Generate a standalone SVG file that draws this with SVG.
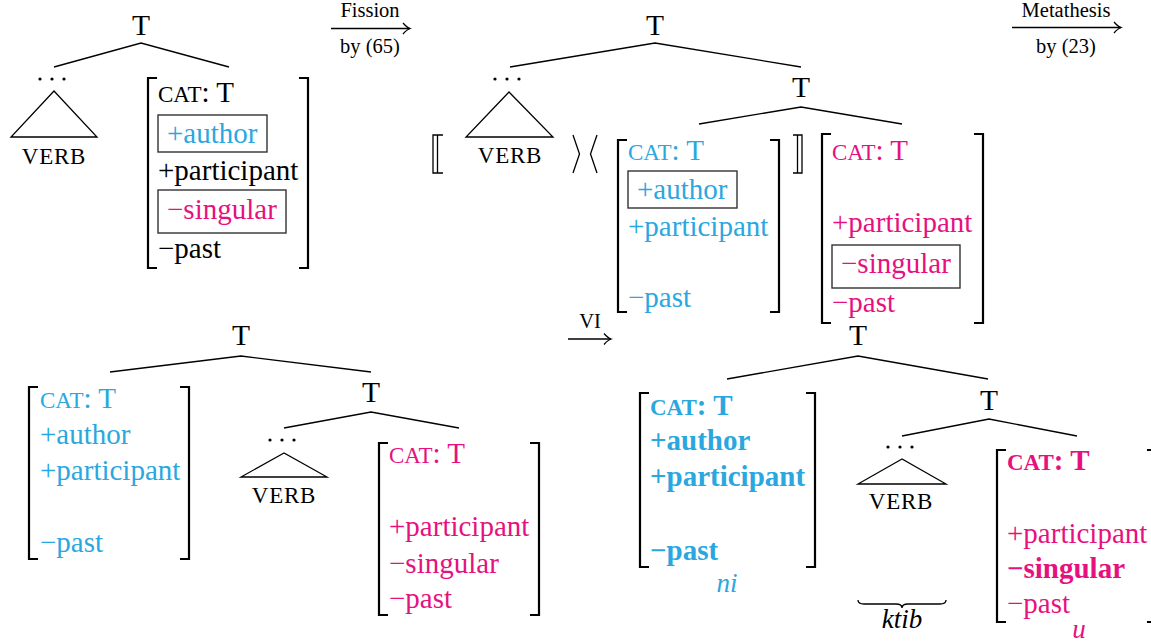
<svg xmlns="http://www.w3.org/2000/svg" width="1151" height="642" viewBox="0 0 1151 642">
  <style>
    text { font-family: "Liberation Serif", "Times New Roman", serif; fill: #000; }
    .f { font-size: 29px; }
    .sc { font-size: 23px; }
    .node { font-size: 29.5px; text-anchor: middle; }
    .verb { font-size: 23px; letter-spacing: 0.8px; text-anchor: middle; }
    .lbl { font-size: 20.5px; text-anchor: middle; }
    .it { font-size: 27px; font-style: italic; text-anchor: middle; }
    .blue { fill: #2AA7DF; }
    .pink { fill: #E6117F; }
    .b { font-weight: bold; }
    .brk { fill: none; stroke: #000; stroke-width: 2.2; }
    .thin { fill: none; stroke: #000; stroke-width: 1.3; }
    .box { fill: none; stroke: #333; stroke-width: 1.4; }
    .edge { fill: none; stroke: #000; stroke-width: 1.3; }
    .dot { fill: #000; }
  </style>
  <defs>
    <marker id="tex-arrow" markerUnits="userSpaceOnUse" orient="auto" markerWidth="12" markerHeight="12" refX="0" refY="0" viewBox="-10 -6 12 12" overflow="visible">
      <path d="M-7,-5.5 Q-3,-1 0,0 Q-3,1 -7,5.5" fill="none" stroke="#000" stroke-width="1.3"/>
    </marker>
    <!-- three-dot ellipsis above a collapsed subtree -->
    <g id="ellipsis">
      <circle class="dot" cx="-12" cy="0" r="1.6"/>
      <circle class="dot" cx="0" cy="0" r="1.6"/>
      <circle class="dot" cx="12" cy="0" r="1.6"/>
    </g>
  </defs>

  <!-- tree branches -->
  <g id="connectors">
    <path class="edge" d="M54,67 L141,43 L229,67"/>
    <path class="edge" d="M510,67 L655,43 L801,67"/>
    <path class="edge" d="M699,124 L801,107 L902,124"/>
    <path class="edge" d="M110,372 L241,356 L371,372"/>
    <path class="edge" d="M284,428 L371,412 L459,428"/>
    <path class="edge" d="M727,379 L858,356 L988,379"/>
    <path class="edge" d="M902,436 L989,419 L1077,436"/>
  </g>

  <!-- derivation steps -->
  <g id="steps">
    <g id="step-fission">
      <text class="lbl" x="370" y="17">Fission</text>
      <line class="thin" x1="331" y1="28.5" x2="410" y2="28.5" marker-end="url(#tex-arrow)"/>
      <text class="lbl" x="370" y="53">by (65)</text>
    </g>
    <g id="step-metathesis">
      <text class="lbl" x="1066" y="17">Metathesis</text>
      <line class="thin" x1="1012" y1="27.5" x2="1121" y2="27.5" marker-end="url(#tex-arrow)"/>
      <text class="lbl" x="1066" y="53">by (23)</text>
    </g>
    <g id="step-vi">
      <text class="lbl" x="590" y="328">VI</text>
      <line class="thin" x1="568" y1="339" x2="611" y2="339" marker-end="url(#tex-arrow)"/>
    </g>
  </g>

  <!-- stage 1: before fission -->
  <g id="s1-root"><text class="node" x="141" y="35">T</text></g>
  <g id="s1-verb">
    <use href="#ellipsis" x="52" y="79"/>
    <polygon class="thin" points="54,91 11,137 97,137"/>
    <text class="verb" x="54" y="164">VERB</text>
  </g>
  <g id="s1-features">
    <path class="brk" d="M157,78 H148 V268 H157"/>
    <path class="brk" d="M299,78 H308 V268 H299"/>
    <text class="f" x="158" y="102"><tspan class="sc">CAT</tspan>: T</text>
    <rect class="box" x="158" y="115" width="109" height="37"/>
    <text class="f blue" x="167" y="143">+author</text>
    <text class="f" x="158" y="180">+participant</text>
    <rect class="box" x="158" y="190" width="128" height="43"/>
    <text class="f pink" x="167" y="219">−singular</text>
    <text class="f" x="158" y="258">−past</text>
  </g>

  <!-- stage 2: after fission -->
  <g id="s2-root"><text class="node" x="655" y="35">T</text></g>
  <g id="s2-verb">
    <use href="#ellipsis" x="507" y="79"/>
    <polygon class="thin" points="509,92 466,137 553,137"/>
    <text class="verb" x="510" y="163">VERB</text>
    <path class="thin" d="M443,135 H433 V173 H443 M437.5,135 V173"/>
    <path class="thin" d="M573,135 L579.5,154 L573,173"/>
    <path class="thin" d="M597,135 L590.5,154 L597,173"/>
  </g>
  <g id="s2-t"><text class="node" x="801" y="97">T</text></g>
  <g id="s2-blue">
    <path class="brk" d="M627,140 H618 V312 H627"/>
    <path class="brk" d="M770,140 H779 V312 H770"/>
    <text class="f blue" x="628" y="160"><tspan class="sc">CAT</tspan>: T</text>
    <rect class="box" x="628" y="171" width="109" height="37"/>
    <text class="f blue" x="637" y="199">+author</text>
    <text class="f blue" x="628" y="236">+participant</text>
    <text class="f blue" x="628" y="307">−past</text>
    <path class="thin" d="M793,135 H802 V173 H793 M797.5,135 V173"/>
  </g>
  <g id="s2-pink">
    <path class="brk" d="M831,134 H822 V323 H831"/>
    <path class="brk" d="M974,134 H983 V323 H974"/>
    <text class="f pink" x="832" y="160"><tspan class="sc">CAT</tspan>: T</text>
    <text class="f pink" x="832" y="232">+participant</text>
    <rect class="box" x="832" y="245" width="128" height="43"/>
    <text class="f pink" x="841" y="273">−singular</text>
    <text class="f pink" x="832" y="312">−past</text>
  </g>

  <!-- stage 3: after metathesis -->
  <g id="s3-root"><text class="node" x="241" y="345">T</text></g>
  <g id="s3-blue">
    <path class="brk" d="M38,387 H29 V559 H38"/>
    <path class="brk" d="M180,387 H189 V559 H180"/>
    <text class="f blue" x="40" y="408"><tspan class="sc">CAT</tspan>: T</text>
    <text class="f blue" x="40" y="444">+author</text>
    <text class="f blue" x="40" y="480">+participant</text>
    <text class="f blue" x="40" y="552">−past</text>
  </g>
  <g id="s3-t"><text class="node" x="371" y="402">T</text></g>
  <g id="s3-verb">
    <use href="#ellipsis" x="282" y="440"/>
    <polygon class="thin" points="284,453 241,477 327,477"/>
    <text class="verb" x="284" y="503">VERB</text>
  </g>
  <g id="s3-pink">
    <path class="brk" d="M388,443 H379 V615 H388"/>
    <path class="brk" d="M530,443 H539 V615 H530"/>
    <text class="f pink" x="389" y="463"><tspan class="sc">CAT</tspan>: T</text>
    <text class="f pink" x="389" y="536">+participant</text>
    <text class="f pink" x="389" y="573">−singular</text>
    <text class="f pink" x="389" y="608">−past</text>
  </g>

  <!-- stage 4: vocabulary insertion -->
  <g id="s4-root"><text class="node" x="858" y="345">T</text></g>
  <g id="s4-blue">
    <path class="brk" d="M649,393 H640 V567 H649"/>
    <path class="brk" d="M806,393 H815 V567 H806"/>
    <text class="f blue b" x="650" y="415"><tspan class="sc">CAT</tspan>: T</text>
    <text class="f blue b" x="650" y="450">+author</text>
    <text class="f blue b" x="650" y="486">+participant</text>
    <text class="f blue b" x="650" y="560">−past</text>
    <text class="it blue" x="727" y="592">ni</text>
  </g>
  <g id="s4-t"><text class="node" x="989" y="410">T</text></g>
  <g id="s4-verb">
    <use href="#ellipsis" x="900" y="447"/>
    <polygon class="thin" points="902,459 858,484 946,484"/>
    <text class="verb" x="901" y="509">VERB</text>
    <path class="thin" d="M858,600 Q858,604 864,604 L896,604 Q902,604 902,608 Q902,604 908,604 L940,604 Q946,604 946,600"/>
    <text class="it" x="902" y="628">ktib</text>
  </g>
  <g id="s4-pink">
    <path class="brk" d="M1006,450 H997 V622 H1006"/>
    <path class="brk" d="M1147,450 H1156 V622 H1147"/>
    <text class="f pink b" x="1007" y="470"><tspan class="sc">CAT</tspan>: T</text>
    <text class="f pink" x="1007" y="543">+participant</text>
    <text class="f pink b" x="1007" y="578">−singular</text>
    <text class="f pink" x="1007" y="613">−past</text>
    <text class="it pink" x="1079" y="638">u</text>
  </g>
</svg>
